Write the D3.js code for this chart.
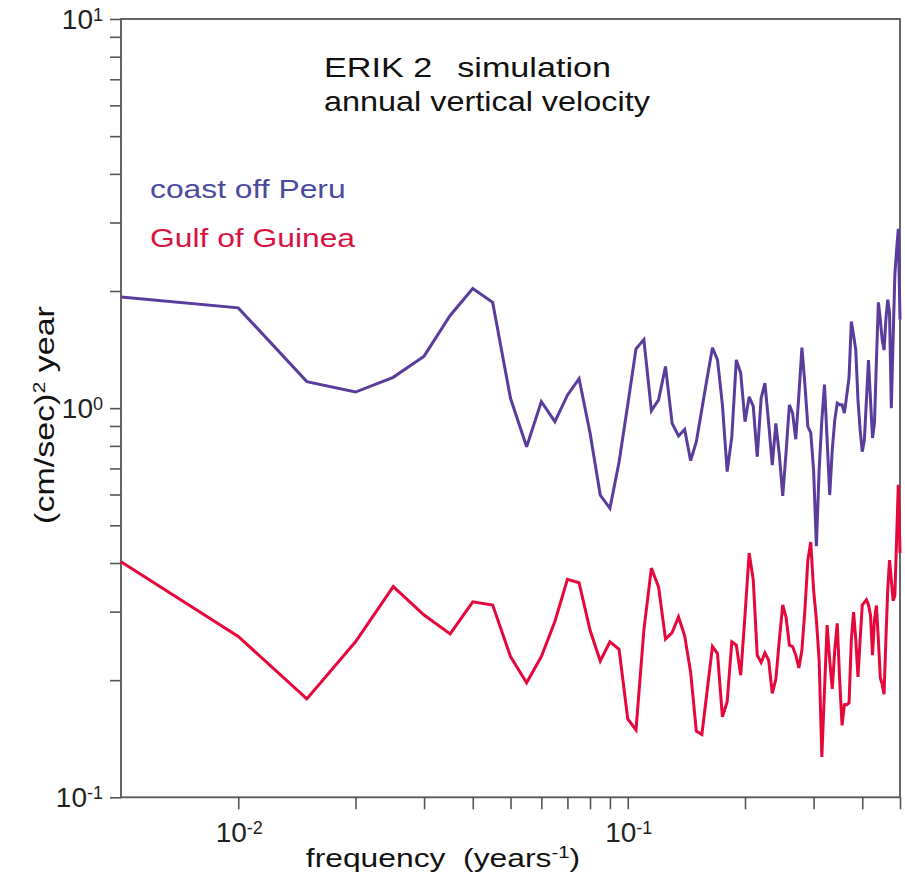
<!DOCTYPE html>
<html>
<head>
<meta charset="utf-8">
<script src="https://cdn.jsdelivr.net/npm/d3@7"></script>
<style>
  body { margin: 0; background: #fff; }
  text { font-family: "Liberation Sans", Arial, Helvetica, sans-serif; }
</style>
</head>
<body>
<svg id="chart" width="905" height="883"></svg>
<script>
// Spectral estimates at frequencies k/200 yr^-1 (k = 1..100)
const frequency = [
  0.005, 0.010, 0.015, 0.020, 0.025, 0.030, 0.035, 0.040, 0.045, 0.050,
  0.055, 0.060, 0.065, 0.070, 0.075, 0.080, 0.085, 0.090, 0.095, 0.100,
  0.105, 0.110, 0.115, 0.120, 0.125, 0.130, 0.135, 0.140, 0.145, 0.150,
  0.155, 0.160, 0.165, 0.170, 0.175, 0.180, 0.185, 0.190, 0.195, 0.200,
  0.205, 0.210, 0.215, 0.220, 0.225, 0.230, 0.235, 0.240, 0.245, 0.250,
  0.255, 0.260, 0.265, 0.270, 0.275, 0.280, 0.285, 0.290, 0.295, 0.300,
  0.305, 0.310, 0.315, 0.320, 0.325, 0.330, 0.335, 0.340, 0.345, 0.350,
  0.355, 0.360, 0.365, 0.370, 0.375, 0.380, 0.385, 0.390, 0.395, 0.400,
  0.405, 0.410, 0.415, 0.420, 0.425, 0.430, 0.435, 0.440, 0.445, 0.450,
  0.455, 0.460, 0.465, 0.470, 0.475, 0.480, 0.485, 0.490, 0.495, 0.500
];

// coast off Peru, (cm/sec)^2 year
const peru = [
  1.93, 1.81, 1.17, 1.10, 1.20, 1.36, 1.73, 2.03, 1.87, 1.06,
  0.796, 1.04, 0.923, 1.08, 1.19, 0.865, 0.598, 0.553, 0.727, 1.02,
  1.42, 1.50, 0.985, 1.05, 1.28, 0.914, 0.848, 0.882, 0.733, 0.820,
  0.995, 1.20, 1.43, 1.33, 1.02, 0.687, 0.845, 1.33, 1.23, 0.923,
  1.07, 1.01, 0.750, 1.06, 1.16, 0.916, 0.714, 0.914, 0.758, 0.595,
  0.772, 1.02, 0.970, 0.832, 1.08, 1.43, 1.15, 0.896, 0.865, 0.694,
  0.442, 0.694, 0.932, 1.15, 0.828, 0.598, 0.781, 0.932, 1.03, 1.02,
  1.02, 0.971, 1.08, 1.20, 1.67, 1.54, 1.41, 1.05, 0.879, 0.773,
  0.828, 1.05, 1.33, 1.05, 0.838, 0.916, 1.33, 1.87, 1.69, 1.50,
  1.41, 1.69, 1.90, 1.76, 1.00, 1.50, 2.20, 2.55, 2.89, 1.69
];

// Gulf of Guinea, (cm/sec)^2 year
const guinea = [
  0.403, 0.259, 0.179, 0.251, 0.348, 0.294, 0.263, 0.318, 0.312, 0.230,
  0.197, 0.230, 0.283, 0.363, 0.356, 0.269, 0.224, 0.251, 0.240, 0.159,
  0.149, 0.269, 0.388, 0.347, 0.255, 0.265, 0.291, 0.260, 0.210, 0.148,
  0.145, 0.189, 0.244, 0.234, 0.161, 0.176, 0.251, 0.246, 0.206, 0.294,
  0.424, 0.362, 0.232, 0.222, 0.235, 0.225, 0.185, 0.201, 0.254, 0.312,
  0.290, 0.246, 0.244, 0.232, 0.215, 0.239, 0.303, 0.407, 0.453, 0.341,
  0.286, 0.225, 0.127, 0.189, 0.277, 0.225, 0.190, 0.239, 0.280, 0.200,
  0.153, 0.173, 0.173, 0.175, 0.254, 0.299, 0.254, 0.204, 0.254, 0.312,
  0.317, 0.322, 0.312, 0.294, 0.232, 0.286, 0.311, 0.254, 0.203, 0.195,
  0.184, 0.254, 0.341, 0.407, 0.362, 0.320, 0.330, 0.458, 0.635, 0.424
];

const seriesNames = ["coast off Peru", "Gulf of Guinea"];
const xMajorTicks = [0.01, 0.1];
const xMajorLabels = [["10", "-2"], ["10", "-1"]];
const xMinorTicks = [0.02, 0.03, 0.04, 0.05, 0.06, 0.07, 0.08, 0.09, 0.2, 0.3, 0.4, 0.5];
const yMajorTicks = [0.1, 1, 10];
const yMajorLabels = [["10", "-1"], ["10", "0"], ["10", "1"]];
const yMinorTicks = [0.2, 0.3, 0.4, 0.5, 0.6, 0.7, 0.8, 0.9, 2, 3, 4, 5, 6, 7, 8, 9];
const titleWords = [["ERIK 2", "simulation"], ["annual vertical velocity"]];

const colors = { peru: "#5a3c9c", guinea: "#e6073b", peruText: "#4b4a9f", guineaText: "#d8133f" };
const axisColor = "#555";

const svg = d3.select("#chart");
const plot = { left: 121, right: 900, top: 19, bottom: 797.3 };

const x = d3.scaleLog().domain([0.005, 0.5]).range([plot.left, plot.right]);
const y = d3.scaleLog().domain([0.1, 10]).range([plot.bottom, plot.top]);

// ticks
const xAxis = d3.axisBottom(x).tickValues(xMajorTicks.concat(xMinorTicks)).tickSize(12).tickFormat("");
const yAxis = d3.axisLeft(y).tickValues(yMajorTicks.concat(yMinorTicks)).tickSize(11).tickFormat("");

const gx = svg.append("g").attr("transform", `translate(0,${plot.bottom})`).call(xAxis);
const gy = svg.append("g").attr("transform", `translate(${plot.left},0)`).call(yAxis);
[gx, gy].forEach(g => {
  g.select(".domain").remove();
  g.selectAll(".tick line").attr("stroke", axisColor).attr("stroke-width", 1.6);
});

// frame
svg.append("rect")
  .attr("x", plot.left).attr("y", plot.top)
  .attr("width", plot.right - plot.left).attr("height", plot.bottom - plot.top)
  .attr("fill", "none").attr("stroke", axisColor).attr("stroke-width", 1.8);

// power-of-ten labels
function powerLabel(g, base, exp) {
  g.append("tspan").text(base).attr("font-size", 28);
  g.append("tspan").text(exp).attr("font-size", 18).attr("dy", -8);
}
xMajorTicks.forEach((v, i) => {
  const t = svg.append("text").attr("x", x(v) + 1).attr("y", 842)
    .attr("text-anchor", "middle").attr("fill", "#222");
  powerLabel(t, xMajorLabels[i][0], xMajorLabels[i][1]);
});
yMajorTicks.forEach((v, i) => {
  const t = svg.append("text").attr("x", 103).attr("y", y(v) + 10)
    .attr("text-anchor", "end").attr("fill", "#222");
  powerLabel(t, yMajorLabels[i][0], yMajorLabels[i][1]);
});

// series lines
const line = d3.line().x(d => x(d[0])).y(d => y(d[1]));
const drawSeries = (values, color) =>
  svg.append("path")
    .datum(frequency.map((f, i) => [f, values[i]]))
    .attr("fill", "none").attr("stroke", color)
    .attr("stroke-width", 3).attr("stroke-linejoin", "miter").attr("stroke-miterlimit", 3)
    .attr("d", line);
drawSeries(guinea, colors.guinea);
drawSeries(peru, colors.peru);

// wide-set text helper
const sx = 1.2;
function wideText(px, py, opts = {}) {
  const g = svg.append("g").attr("transform", `translate(${px},${py})${opts.rotate ? " rotate(-90)" : ""} scale(${opts.sx || sx},1)`);
  return g.append("text").attr("font-size", opts.size || 26).attr("fill", opts.fill || "#111")
    .attr("text-anchor", opts.anchor || "start").style("white-space", "pre");
}

// title
const t1 = wideText(324, 77, { size: 28.5 });
t1.append("tspan").text(titleWords[0][0]);
t1.append("tspan").text(titleWords[0][1]).attr("x", 111);
wideText(324, 111, { size: 27 }).text(titleWords[1][0]);

// legend
wideText(150, 198.3, { fill: colors.peruText, size: 26.5 }).text(seriesNames[0]);
wideText(150, 247.3, { fill: colors.guineaText, size: 26.5 }).text(seriesNames[1]);

// axis titles
const xt = wideText(443, 867, { anchor: "middle", size: 26.5 });
xt.append("tspan").text("frequency  (years");
xt.append("tspan").text("-1").attr("font-size", 17).attr("dy", -9);
xt.append("tspan").text(")").attr("dy", 9);

const yt = wideText(54, 415, { anchor: "middle", rotate: true, size: 27, sx: 1.26 });
yt.append("tspan").text("(cm/sec)");
yt.append("tspan").text("2").attr("font-size", 17).attr("dy", -9);
yt.append("tspan").text(" year").attr("dy", 9);
</script>
</body>
</html>
